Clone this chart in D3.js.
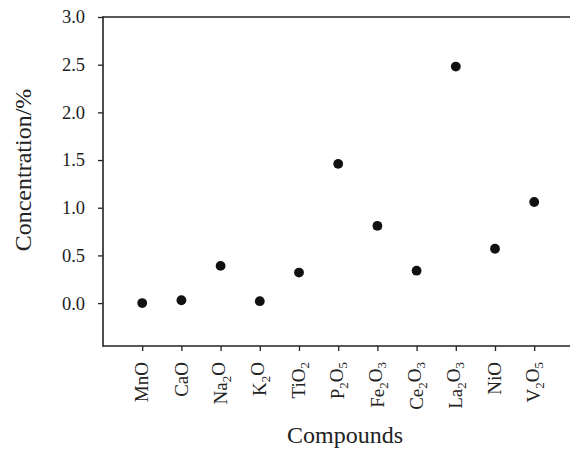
<!DOCTYPE html>
<html>
<head>
<meta charset="utf-8">
<script src="https://cdn.jsdelivr.net/npm/d3@7/dist/d3.min.js"></script>
<style>
  html, body { margin: 0; padding: 0; background: #fff; }
  svg { display: block; }
  text { font-family: "Liberation Serif", "Times New Roman", serif; fill: #222; }
</style>
</head>
<body>
<svg id="chart" width="570" height="449"></svg>
<script>
// Compound names, split into [text, subscript] pieces
const compounds = [
  [["MnO", false]],
  [["CaO", false]],
  [["Na", false], ["2", true], ["O", false]],
  [["K", false], ["2", true], ["O", false]],
  [["TiO", false], ["2", true]],
  [["P", false], ["2", true], ["O", false], ["5", true]],
  [["Fe", false], ["2", true], ["O", false], ["3", true]],
  [["Ce", false], ["2", true], ["O", false], ["3", true]],
  [["La", false], ["2", true], ["O", false], ["3", true]],
  [["NiO", false]],
  [["V", false], ["2", true], ["O", false], ["5", true]]
];
// Concentration (%) and standard deviation for each compound
const concentration = [0.00, 0.03, 0.39, 0.02, 0.32, 1.46, 0.81, 0.34, 2.48, 0.57, 1.06];
const deviation     = [0.005, 0.01, 0.015, 0.005, 0.01, 0.025, 0.03, 0.01, 0.01, 0.01, 0.01];
const yTicks = [0.0, 0.5, 1.0, 1.5, 2.0, 2.5, 3.0];

const svg = d3.select("#chart");
const plotLeft = 103, plotTop = 17, plotBottom = 346;

// Positions 1..11 for the compounds; the frame runs from 0 to 12
const x = d3.scaleLinear().domain([0, 12]).range([plotLeft, plotLeft + 39.2 * 12]);
const y = d3.scaleLinear().domain([-0.45, 3.0]).range([plotBottom, plotTop]);

const stroke = "#222";

// Frame: top, left and bottom edges (right edge lies past the page)
const frame = svg.append("g").attr("stroke", stroke).attr("stroke-width", 1.6);
frame.append("line").attr("x1", x(0)).attr("x2", x(12)).attr("y1", y(3.0)).attr("y2", y(3.0));
frame.append("line").attr("x1", x(0)).attr("x2", x(12)).attr("y1", y(-0.45)).attr("y2", y(-0.45));
frame.append("line").attr("x1", x(0)).attr("x2", x(0)).attr("y1", y(3.0) - 0.8).attr("y2", y(-0.45) + 0.8);

// Y axis
const yAxis = svg.append("g")
  .attr("transform", `translate(${x(0)},0)`)
  .call(d3.axisLeft(y).tickValues(yTicks).tickFormat(d3.format(".1f"))
        .tickSize(5).tickPadding(13));
yAxis.select(".domain").remove();
yAxis.selectAll(".tick line").attr("stroke", stroke).attr("stroke-width", 1.3);
yAxis.selectAll(".tick text").style("font-size", "18.5px")
  .style("font-family", '"Liberation Serif", serif').attr("fill", "#222");

// X axis ticks
const positions = d3.range(1, compounds.length + 1);
const xAxis = svg.append("g")
  .attr("transform", `translate(0,${plotBottom})`)
  .call(d3.axisBottom(x).tickValues(positions).tickFormat("").tickSize(5));
xAxis.select(".domain").remove();
xAxis.selectAll(".tick line").attr("stroke", stroke).attr("stroke-width", 1.3);

// Rotated compound labels with subscripts
compounds.forEach((parts, i) => {
  const t = svg.append("text")
    .attr("transform", `translate(${x(i + 1)},${plotBottom + 16}) rotate(-90)`)
    .attr("text-anchor", "end")
    .attr("dy", "0.33em")
    .style("font-size", "19px");
  let sub = false;
  parts.forEach(([s, isSub]) => {
    const ts = t.append("tspan").text(s);
    if (isSub && !sub) ts.attr("dy", "0.3em");
    if (!isSub && sub) ts.attr("dy", "-0.3em");
    if (isSub) ts.style("font-size", "13px");
    sub = isSub;
  });
});

// Error bars
const cap = 4;
const eb = svg.append("g").attr("stroke", "#111").attr("stroke-width", 1.2);
concentration.forEach((v, i) => {
  const cx = x(i + 1), e = deviation[i];
  eb.append("line").attr("x1", cx).attr("x2", cx).attr("y1", y(v - e)).attr("y2", y(v + e));
  eb.append("line").attr("x1", cx - cap).attr("x2", cx + cap).attr("y1", y(v - e)).attr("y2", y(v - e));
  eb.append("line").attr("x1", cx - cap).attr("x2", cx + cap).attr("y1", y(v + e)).attr("y2", y(v + e));
});

// Points
svg.append("g").selectAll("circle")
  .data(concentration)
  .join("circle")
  .attr("cx", (d, i) => x(i + 1))
  .attr("cy", d => y(d))
  .attr("r", 4.9)
  .attr("fill", "#111");

// Axis titles
svg.append("text")
  .attr("x", 345).attr("y", 443)
  .attr("text-anchor", "middle")
  .style("font-size", "24px")
  .text("Compounds");

svg.append("text")
  .attr("transform", `translate(31,170) rotate(-90)`)
  .attr("text-anchor", "middle")
  .style("font-size", "24px")
  .text("Concentration/%");
</script>
</body>
</html>
